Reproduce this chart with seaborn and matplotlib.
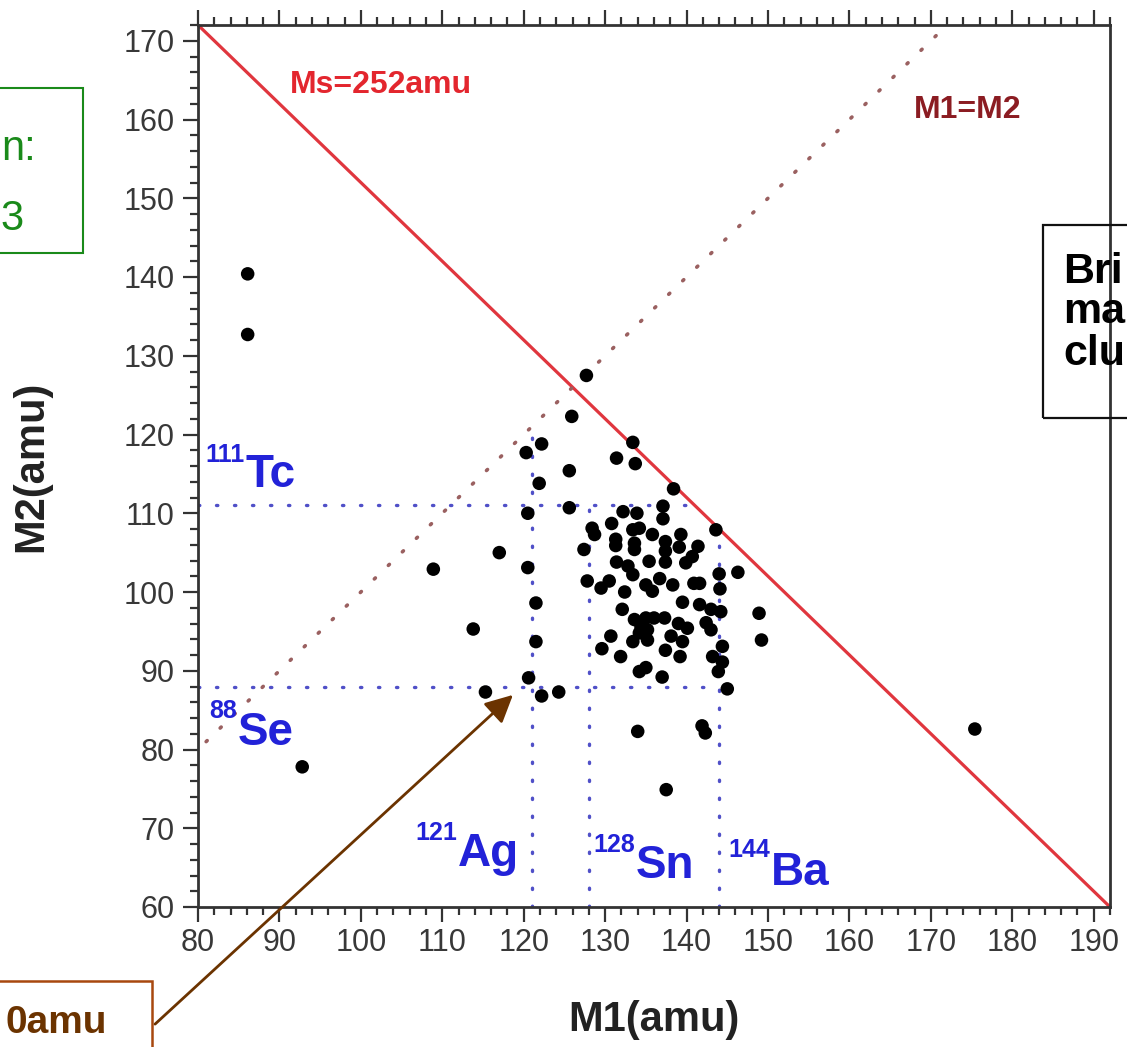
import matplotlib
matplotlib.use("Agg")
import matplotlib.pyplot as plt
import seaborn as sns
import pandas as pd
from matplotlib.patches import Rectangle, FancyArrowPatch
from matplotlib.ticker import MultipleLocator

# ---------------- data ----------------
m1 = [86.1, 86.1, 92.8, 108.9, 113.8, 117.0, 115.3, 175.4, 127.7, 125.9,
      122.2, 120.3, 125.6, 121.9, 125.6, 120.5, 127.4, 120.5, 127.8, 121.5,
      121.5, 120.6, 122.2, 124.3, 133.4, 131.4, 133.7, 138.4, 132.2, 133.9,
      137.1, 137.1, 143.6, 130.8, 128.4, 128.7, 133.4, 134.2, 135.8, 139.3,
      131.3, 131.3, 133.6, 133.6, 137.4, 137.4, 139.1, 141.4, 140.7, 139.9,
      131.4, 132.8, 133.4, 135.4, 137.4, 144.0, 146.3, 129.5, 130.5, 136.7,
      135.0, 135.8, 138.3, 140.9, 141.6, 144.1, 132.4, 139.5, 141.6, 143.0,
      144.2, 148.9, 132.1, 133.6, 135.0, 136.0, 137.3, 134.4, 135.2, 134.2,
      135.2, 133.4, 139.0, 140.1, 142.4, 143.0, 138.1, 139.5, 144.4, 149.2,
      130.7, 129.6, 137.4, 131.9, 139.2, 143.2, 144.4, 143.9, 134.2, 135.0,
      137.0, 145.0, 134.0, 141.9, 142.3, 137.5]
m2 = [140.4, 132.7, 77.8, 102.9, 95.3, 105.0, 87.3, 82.6, 127.5, 122.3,
      118.8, 117.7, 115.4, 113.8, 110.7, 110.0, 105.4, 103.1, 101.4, 98.6,
      93.7, 89.1, 86.8, 87.3, 119.0, 117.0, 116.3, 113.1, 110.2, 110.0,
      110.9, 109.3, 107.9, 108.7, 108.1, 107.3, 107.9, 108.1, 107.3, 107.3,
      106.7, 105.9, 106.2, 105.4, 106.4, 105.2, 105.7, 105.8, 104.5, 103.7,
      103.8, 103.3, 102.2, 103.9, 103.8, 102.3, 102.5, 100.5, 101.4, 101.7,
      100.9, 100.1, 100.9, 101.1, 101.1, 100.4, 100.0, 98.7, 98.4, 97.8,
      97.5, 97.3, 97.8, 96.5, 96.7, 96.7, 96.7, 95.6, 95.2, 94.8,
      93.9, 93.7, 96.0, 95.4, 96.1, 95.2, 94.4, 93.7, 93.1, 93.9,
      94.4, 92.8, 92.6, 91.8, 91.8, 91.8, 91.1, 89.9, 89.9, 90.4,
      89.2, 87.7, 82.3, 83.0, 82.1, 74.9]

ms_total = 252
x_ticks = list(range(80, 191, 10))
y_ticks = list(range(60, 171, 10))
nuclides = [("111", "Tc"), ("88", "Se"), ("121", "Ag"), ("128", "Sn"), ("144", "Ba")]
ref_m1 = [121, 128, 144]
ref_m2 = [111, 88]

df = pd.DataFrame({"M1": m1, "M2": m2})

# ---------------- figure ----------------
W, H = 1127, 1047
sns.set_theme(style="white")
plt.rcParams["font.family"] = ["Liberation Sans", "DejaVu Sans"]

fig = plt.figure(figsize=(W / 100, H / 100), dpi=100)
ax = fig.add_axes([198 / W, 1 - 907 / H, (1110 - 198) / W, (907 - 25) / H])

xmin, xmax, ymin, ymax = 80, 192, 60, 172
ax.set_xlim(xmin, xmax)
ax.set_ylim(ymin, ymax)

# reference lines
ax.plot([xmin, ms_total - ymin], [ms_total - xmin, ymin], color="#e0363e", lw=2.3, zorder=2)
ax.plot([81, 172], [81, 172], color="#9a6060", lw=2.6, ls=(0, (0.4, 5.0)),
        dash_capstyle="round", zorder=2)

blue_dot = dict(color="#5050c8", lw=2.4, ls=(0, (0.4, 5.0)), dash_capstyle="round", zorder=1.5)
ax.plot([xmin, ms_total - ref_m2[0]], [ref_m2[0], ref_m2[0]], **blue_dot)
ax.plot([xmin, ref_m1[2]], [ref_m2[1], ref_m2[1]], **blue_dot)
ax.plot([ref_m1[0], ref_m1[0]], [ymin, ref_m1[0]], **blue_dot)
ax.plot([ref_m1[1], ref_m1[1]], [ymin, ref_m2[0]], **blue_dot)
ax.plot([ref_m1[2], ref_m1[2]], [ymin, ms_total - ref_m1[2]], **blue_dot)

sns.scatterplot(data=df, x="M1", y="M2", ax=ax, color="black", s=95,
                edgecolor="none", linewidth=0, zorder=3, legend=False)

# axes styling
for side in ["left", "bottom", "top", "right"]:
    ax.spines[side].set_color("#333333")
    ax.spines[side].set_linewidth(2.0)
ax.set_xticks(x_ticks)
ax.set_yticks(y_ticks)
ax.xaxis.set_minor_locator(MultipleLocator(2))
ax.yaxis.set_minor_locator(MultipleLocator(2))
ax.tick_params(which="both", direction="out", color="#333333", width=1.6,
               bottom=True, top=True, left=True, right=False,
               labelsize=22, labelcolor="#383838")
ax.tick_params(which="major", length=11)
ax.tick_params(which="minor", length=5.5)
ax.tick_params(axis="x", which="major", pad=4)
ax.tick_params(axis="y", which="major", pad=6)
ax.set_xlabel("M1(amu)", fontsize=30, fontweight="bold", color="#222222", labelpad=30)
ax.set_ylabel("M2(amu)", fontsize=30, fontweight="bold", color="#222222", labelpad=52)
ax.grid(False)

# labels in plot
ax.text(91.3, 163.4, "Ms=252amu", color="#e3262e", fontsize=23, fontweight="bold")
ax.text(167.9, 160.2, "M1=M2", color="#8b1c22", fontsize=23, fontweight="bold")

blue = "#2222d8"
label_pos = [(85.8, 113.3, 116.5), (84.9, 80.6, 84.0), (111.9, 65.2, 68.5),
             (133.8, 63.7, 67.0), (150.3, 62.8, 66.4)]
for (sup, sym), (lx, ly, sy) in zip(nuclides, label_pos):
    ax.text(lx, ly, sym, color=blue, fontsize=33, fontweight="bold", ha="left", va="baseline")
    ax.text(lx - 0.1, sy, sup, color=blue, fontsize=18, fontweight="bold", ha="right", va="baseline")

# ---------------- cut-off slide annotations ----------------
def fx(px):
    return px / W

def fy(py):
    return 1 - py / H

fig.add_artist(Rectangle((fx(-5), fy(253)), fx(88), (253 - 88) / H, transform=fig.transFigure,
                         fill=False, edgecolor="#1a8a1a", lw=1.5))
fig.text(fx(36), fy(160), "n:", color="#1a8a1a", fontsize=30, ha="right", va="baseline")
fig.text(fx(24), fy(230), "3", color="#1a8a1a", fontsize=30, ha="right", va="baseline")

fig.add_artist(Rectangle((fx(1043), fy(418)), fx(120), (418 - 225) / H, transform=fig.transFigure,
                         fill=False, edgecolor="#111111", lw=1.6))
for txt, base in [("Bri", 283), ("ma", 323), ("clu", 365)]:
    fig.text(fx(1063), fy(base), txt, color="black", fontsize=31, fontweight="bold",
             ha="left", va="baseline")

fig.add_artist(Rectangle((fx(-5), fy(1060)), fx(157), (1060 - 981) / H, transform=fig.transFigure,
                         fill=False, edgecolor="#a8480f", lw=1.8))
fig.text(fx(107), fy(1033), "0amu", color="#6b3300", fontsize=28, fontweight="bold",
         ha="right", va="baseline")

arrow = FancyArrowPatch((fx(153), fy(1026)), (fx(515), fy(693)), transform=fig.transFigure,
                        arrowstyle="-|>,head_length=1.2,head_width=0.6", mutation_scale=14,
                        color="#6b3300", lw=2.0)
fig.add_artist(arrow)

fig.savefig("out.png", dpi=100)
